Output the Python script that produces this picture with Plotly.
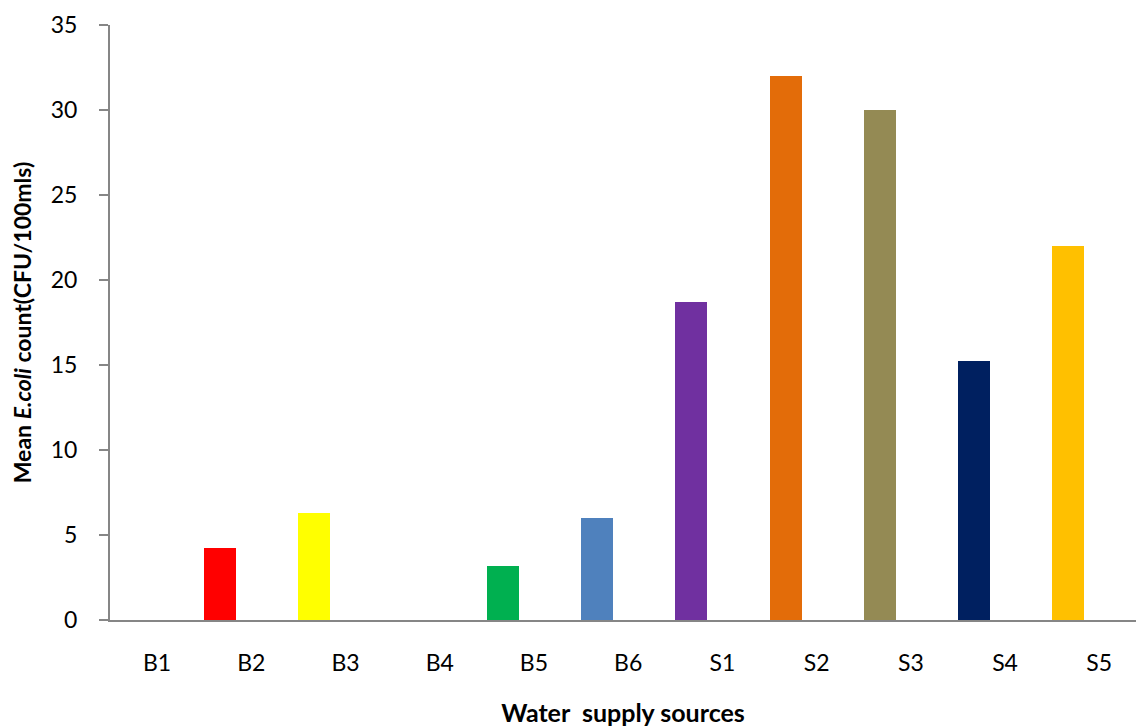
import plotly.graph_objects as go

categories = ["B1", "B2", "B3", "B4", "B5", "B6", "S1", "S2", "S3", "S4", "S5"]
values = [0, 4.24, 6.29, 0, 3.18, 6.0, 18.7, 32.0, 30.0, 15.24, 22.0]
colors = ["#FF0000", "#FF0000", "#FFFF00", "#00B050", "#00B050", "#4F81BD",
          "#7030A0", "#E36C09", "#948A54", "#002060", "#FFC000"]
y_ticks = [0, 5, 10, 15, 20, 25, 30, 35]

FONT = "Lato"

fig = go.Figure()
fig.add_trace(go.Bar(
    x=categories, y=values,
    marker=dict(color=colors, line=dict(width=0)),
    width=0.34, offset=-0.5,
    hoverinfo="x+y",
))

fig.update_layout(
    width=1136, height=727,
    margin=dict(l=110, r=0, t=25, b=107),
    paper_bgcolor="white", plot_bgcolor="white",
    font=dict(family=FONT, size=23, color="#000000"),
    showlegend=False,
    bargap=0,
)
fig.update_xaxes(
    type="category",
    range=[-0.5, 10.39],
    showline=True, linecolor="#868686", linewidth=2,
    showgrid=False, zeroline=False,
    ticks="", ticklabelstandoff=21,
    tickfont=dict(family=FONT, size=23),
    title=dict(text="<b>Water\u00a0\u00a0supply sources</b>",
               font=dict(family=FONT, size=25), standoff=31),
)
fig.update_yaxes(
    range=[0, 35],
    tickvals=y_ticks,
    showline=True, linecolor="#868686", linewidth=2,
    showgrid=False, zeroline=False,
    ticks="outside", ticklen=9, tickwidth=2, tickcolor="#868686",
    ticklabelstandoff=17,
    tickfont=dict(family=FONT, size=23),
    title=dict(text="<b>Mean <i>E.coli</i> count(CFU/100mls)</b>",
               font=dict(family=FONT, size=23), standoff=13),
)

fig.write_html("out.html")
